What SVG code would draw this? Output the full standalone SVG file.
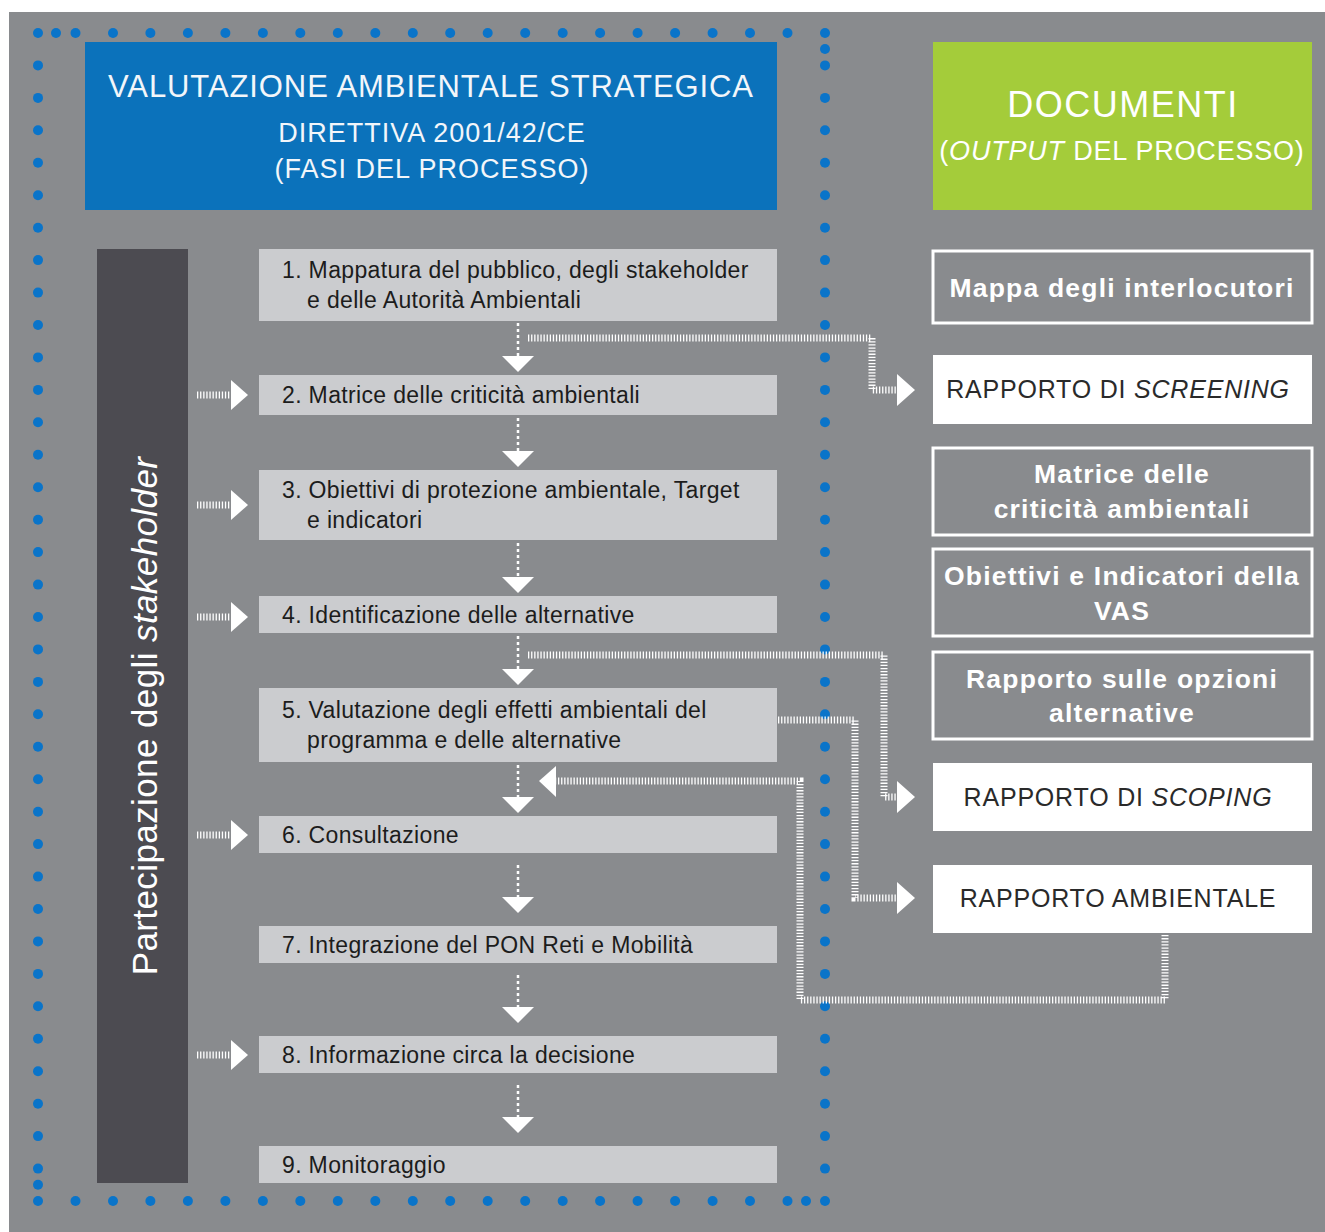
<svg xmlns="http://www.w3.org/2000/svg" width="1325" height="1232" viewBox="0 0 1325 1232">
<defs>
<style>
text{font-family:"Liberation Sans",Arial,sans-serif}
.step{fill:#cbcccf}
.st{font-size:23px;letter-spacing:0.35px;fill:#1c1c1c}
.dot{fill:#0a74c9}
.hatch{fill:none;stroke:#ffffff;stroke-width:7;stroke-dasharray:1.3 1.8}
.vdash{fill:none;stroke:#ffffff;stroke-width:2.5;stroke-dasharray:3 3}
.arr{fill:#ffffff}
.docO{fill:none;stroke:#ffffff;stroke-width:3}
.docW{fill:#ffffff}
.dto{font-size:26.5px;letter-spacing:1.2px;font-weight:700;fill:#ffffff;text-anchor:middle}
.dtw{font-size:25px;letter-spacing:0.8px;fill:#2a2a2a;text-anchor:middle}
</style>
</defs>
<rect x="0" y="0" width="1325" height="1232" fill="#ffffff"/>
<rect x="9" y="12" width="1316" height="1220" fill="#898b8e"/>

<g id="border-dots">
<circle class="dot" cx="38" cy="33" r="5"/><circle class="dot" cx="56" cy="33" r="5"/><circle class="dot" cx="75.5" cy="33" r="5"/><circle class="dot" cx="113" cy="33" r="5"/><circle class="dot" cx="150.4" cy="33" r="5"/><circle class="dot" cx="187.9" cy="33" r="5"/><circle class="dot" cx="225.4" cy="33" r="5"/><circle class="dot" cx="262.9" cy="33" r="5"/><circle class="dot" cx="300.3" cy="33" r="5"/><circle class="dot" cx="337.8" cy="33" r="5"/><circle class="dot" cx="375.3" cy="33" r="5"/><circle class="dot" cx="412.8" cy="33" r="5"/><circle class="dot" cx="450.2" cy="33" r="5"/><circle class="dot" cx="487.7" cy="33" r="5"/><circle class="dot" cx="525.2" cy="33" r="5"/><circle class="dot" cx="562.7" cy="33" r="5"/><circle class="dot" cx="600.1" cy="33" r="5"/><circle class="dot" cx="637.6" cy="33" r="5"/><circle class="dot" cx="675.1" cy="33" r="5"/><circle class="dot" cx="712.6" cy="33" r="5"/><circle class="dot" cx="750" cy="33" r="5"/><circle class="dot" cx="787.5" cy="33" r="5"/><circle class="dot" cx="825" cy="33" r="5"/>
<circle class="dot" cx="38" cy="1201" r="5"/><circle class="dot" cx="75.5" cy="1201" r="5"/><circle class="dot" cx="113" cy="1201" r="5"/><circle class="dot" cx="150.4" cy="1201" r="5"/><circle class="dot" cx="187.9" cy="1201" r="5"/><circle class="dot" cx="225.4" cy="1201" r="5"/><circle class="dot" cx="262.9" cy="1201" r="5"/><circle class="dot" cx="300.3" cy="1201" r="5"/><circle class="dot" cx="337.8" cy="1201" r="5"/><circle class="dot" cx="375.3" cy="1201" r="5"/><circle class="dot" cx="412.8" cy="1201" r="5"/><circle class="dot" cx="450.2" cy="1201" r="5"/><circle class="dot" cx="487.7" cy="1201" r="5"/><circle class="dot" cx="525.2" cy="1201" r="5"/><circle class="dot" cx="562.7" cy="1201" r="5"/><circle class="dot" cx="600.1" cy="1201" r="5"/><circle class="dot" cx="637.6" cy="1201" r="5"/><circle class="dot" cx="675.1" cy="1201" r="5"/><circle class="dot" cx="712.6" cy="1201" r="5"/><circle class="dot" cx="750" cy="1201" r="5"/><circle class="dot" cx="787.5" cy="1201" r="5"/><circle class="dot" cx="806" cy="1201" r="5"/><circle class="dot" cx="825" cy="1201" r="5"/>
<circle class="dot" cx="38" cy="65.4" r="5"/><circle class="dot" cx="38" cy="97.9" r="5"/><circle class="dot" cx="38" cy="130.3" r="5"/><circle class="dot" cx="38" cy="162.8" r="5"/><circle class="dot" cx="38" cy="195.2" r="5"/><circle class="dot" cx="38" cy="227.7" r="5"/><circle class="dot" cx="38" cy="260.1" r="5"/><circle class="dot" cx="38" cy="292.6" r="5"/><circle class="dot" cx="38" cy="325" r="5"/><circle class="dot" cx="38" cy="357.4" r="5"/><circle class="dot" cx="38" cy="389.9" r="5"/><circle class="dot" cx="38" cy="422.3" r="5"/><circle class="dot" cx="38" cy="454.8" r="5"/><circle class="dot" cx="38" cy="487.2" r="5"/><circle class="dot" cx="38" cy="519.7" r="5"/><circle class="dot" cx="38" cy="552.1" r="5"/><circle class="dot" cx="38" cy="584.6" r="5"/><circle class="dot" cx="38" cy="617" r="5"/><circle class="dot" cx="38" cy="649.4" r="5"/><circle class="dot" cx="38" cy="681.9" r="5"/><circle class="dot" cx="38" cy="714.3" r="5"/><circle class="dot" cx="38" cy="746.8" r="5"/><circle class="dot" cx="38" cy="779.2" r="5"/><circle class="dot" cx="38" cy="811.7" r="5"/><circle class="dot" cx="38" cy="844.1" r="5"/><circle class="dot" cx="38" cy="876.6" r="5"/><circle class="dot" cx="38" cy="909" r="5"/><circle class="dot" cx="38" cy="941.4" r="5"/><circle class="dot" cx="38" cy="973.9" r="5"/><circle class="dot" cx="38" cy="1006.3" r="5"/><circle class="dot" cx="38" cy="1038.8" r="5"/><circle class="dot" cx="38" cy="1071.2" r="5"/><circle class="dot" cx="38" cy="1103.7" r="5"/><circle class="dot" cx="38" cy="1136.1" r="5"/><circle class="dot" cx="38" cy="1168.6" r="5"/><circle class="dot" cx="38" cy="1184.8" r="5"/>
<circle class="dot" cx="825" cy="49" r="5"/><circle class="dot" cx="825" cy="65.4" r="5"/><circle class="dot" cx="825" cy="97.9" r="5"/><circle class="dot" cx="825" cy="130.3" r="5"/><circle class="dot" cx="825" cy="162.8" r="5"/><circle class="dot" cx="825" cy="195.2" r="5"/><circle class="dot" cx="825" cy="227.7" r="5"/><circle class="dot" cx="825" cy="260.1" r="5"/><circle class="dot" cx="825" cy="292.6" r="5"/><circle class="dot" cx="825" cy="325" r="5"/><circle class="dot" cx="825" cy="357.4" r="5"/><circle class="dot" cx="825" cy="389.9" r="5"/><circle class="dot" cx="825" cy="422.3" r="5"/><circle class="dot" cx="825" cy="454.8" r="5"/><circle class="dot" cx="825" cy="487.2" r="5"/><circle class="dot" cx="825" cy="519.7" r="5"/><circle class="dot" cx="825" cy="552.1" r="5"/><circle class="dot" cx="825" cy="584.6" r="5"/><circle class="dot" cx="825" cy="617" r="5"/><circle class="dot" cx="825" cy="649.4" r="5"/><circle class="dot" cx="825" cy="681.9" r="5"/><circle class="dot" cx="825" cy="714.3" r="5"/><circle class="dot" cx="825" cy="746.8" r="5"/><circle class="dot" cx="825" cy="779.2" r="5"/><circle class="dot" cx="825" cy="811.7" r="5"/><circle class="dot" cx="825" cy="844.1" r="5"/><circle class="dot" cx="825" cy="876.6" r="5"/><circle class="dot" cx="825" cy="909" r="5"/><circle class="dot" cx="825" cy="941.4" r="5"/><circle class="dot" cx="825" cy="973.9" r="5"/><circle class="dot" cx="825" cy="1006.3" r="5"/><circle class="dot" cx="825" cy="1038.8" r="5"/><circle class="dot" cx="825" cy="1071.2" r="5"/><circle class="dot" cx="825" cy="1103.7" r="5"/><circle class="dot" cx="825" cy="1136.1" r="5"/><circle class="dot" cx="825" cy="1168.6" r="5"/>
</g>

<g id="header-vas">
<rect x="85" y="42" width="692" height="168" fill="#0b72bb"/>
<text x="431" y="97" font-size="31" letter-spacing="0.9" fill="#f2f6fa" text-anchor="middle">VALUTAZIONE AMBIENTALE STRATEGICA</text>
<text x="432" y="142" font-size="27" letter-spacing="1" fill="#f2f6fa" text-anchor="middle">DIRETTIVA 2001/42/CE</text>
<text x="432" y="178" font-size="27" letter-spacing="1" fill="#f2f6fa" text-anchor="middle">(FASI DEL PROCESSO)</text>
</g>

<g id="header-documenti">
<rect x="933" y="42" width="379" height="168" fill="#a4cc3a"/>
<text x="1123" y="117" font-size="36" letter-spacing="1.5" fill="#ffffff" text-anchor="middle">DOCUMENTI</text>
<text x="1122" y="160" font-size="27" letter-spacing="0.8" fill="#ffffff" text-anchor="middle">(<tspan font-style="italic">OUTPUT</tspan> DEL PROCESSO)</text>
</g>

<g id="stakeholder-bar">
<rect x="97" y="249" width="91" height="934" fill="#4c4b51"/>
<text transform="translate(157,716) rotate(-90)" font-size="35" letter-spacing="0.4" fill="#ffffff" text-anchor="middle">Partecipazione degli <tspan font-style="italic">stakeholder</tspan></text>
</g>

<g id="step1"><rect class="step" x="259" y="249" width="518" height="72"/><text class="st" x="282" y="278">1. Mappatura del pubblico, degli stakeholder</text><text class="st" x="307" y="308">e delle Autorità Ambientali</text></g>
<g id="step2"><rect class="step" x="259" y="375" width="518" height="40"/><text class="st" x="282" y="403">2. Matrice delle criticità ambientali</text></g>
<g id="step3"><rect class="step" x="259" y="470" width="518" height="70"/><text class="st" x="282" y="498">3. Obiettivi di protezione ambientale, Target</text><text class="st" x="307" y="528">e indicatori</text></g>
<g id="step4"><rect class="step" x="259" y="596" width="518" height="37"/><text class="st" x="282" y="623">4. Identificazione delle alternative</text></g>
<g id="step5"><rect class="step" x="259" y="688" width="518" height="74"/><text class="st" x="282" y="718">5. Valutazione degli effetti ambientali del</text><text class="st" x="307" y="748">programma e delle alternative</text></g>
<g id="step6"><rect class="step" x="259" y="816" width="518" height="37"/><text class="st" x="282" y="843">6. Consultazione</text></g>
<g id="step7"><rect class="step" x="259" y="926" width="518" height="37"/><text class="st" x="282" y="953">7. Integrazione del PON Reti e Mobilità</text></g>
<g id="step8"><rect class="step" x="259" y="1036" width="518" height="37"/><text class="st" x="282" y="1063">8. Informazione circa la decisione</text></g>
<g id="step9"><rect class="step" x="259" y="1146" width="518" height="37"/><text class="st" x="282" y="1173">9. Monitoraggio</text></g>

<g id="doc-mappa"><rect class="docO" x="933" y="251" width="379" height="72"/><text class="dto" x="1122" y="297">Mappa degli interlocutori</text></g>
<g id="doc-screening"><rect class="docW" x="933" y="355" width="379" height="69"/><text class="dtw" x="1118" y="398">RAPPORTO DI <tspan font-style="italic">SCREENING</tspan></text></g>
<g id="doc-matrice"><rect class="docO" x="933" y="448" width="379" height="87"/><text class="dto" x="1122" y="483">Matrice delle</text><text class="dto" x="1122" y="518">criticità ambientali</text></g>
<g id="doc-obiettivi"><rect class="docO" x="933" y="549" width="379" height="87"/><text class="dto" x="1122" y="585">Obiettivi e Indicatori della</text><text class="dto" x="1122" y="620">VAS</text></g>
<g id="doc-opzioni"><rect class="docO" x="933" y="652" width="379" height="87"/><text class="dto" x="1122" y="688">Rapporto sulle opzioni</text><text class="dto" x="1122" y="722">alternative</text></g>
<g id="doc-scoping"><rect class="docW" x="933" y="763" width="379" height="68"/><text class="dtw" x="1118" y="806">RAPPORTO DI <tspan font-style="italic">SCOPING</tspan></text></g>
<g id="doc-ambientale"><rect class="docW" x="933" y="865" width="379" height="68"/><text class="dtw" x="1118" y="907">RAPPORTO AMBIENTALE</text></g>

<g id="connectors">
<line class="vdash" x1="518" y1="323" x2="518" y2="357"/><polygon class="arr" points="502,356 534,356 518,372"/>
<line class="vdash" x1="518" y1="418" x2="518" y2="452"/><polygon class="arr" points="502,451 534,451 518,467"/>
<line class="vdash" x1="518" y1="543" x2="518" y2="578"/><polygon class="arr" points="502,577 534,577 518,593"/>
<line class="vdash" x1="518" y1="636" x2="518" y2="670"/><polygon class="arr" points="502,669 534,669 518,685"/>
<line class="vdash" x1="518" y1="765" x2="518" y2="798"/><polygon class="arr" points="502,797 534,797 518,813"/>
<line class="vdash" x1="518" y1="865" x2="518" y2="898"/><polygon class="arr" points="502,897 534,897 518,913"/>
<line class="vdash" x1="518" y1="975" x2="518" y2="1008"/><polygon class="arr" points="502,1007 534,1007 518,1023"/>
<line class="vdash" x1="518" y1="1085" x2="518" y2="1118"/><polygon class="arr" points="502,1117 534,1117 518,1133"/>
<line class="hatch" x1="197" y1="395" x2="232" y2="395"/><polygon class="arr" points="231,380 231,410 248,395"/>
<line class="hatch" x1="197" y1="505" x2="232" y2="505"/><polygon class="arr" points="231,490 231,520 248,505"/>
<line class="hatch" x1="197" y1="617" x2="232" y2="617"/><polygon class="arr" points="231,602 231,632 248,617"/>
<line class="hatch" x1="197" y1="835" x2="232" y2="835"/><polygon class="arr" points="231,820 231,850 248,835"/>
<line class="hatch" x1="197" y1="1055" x2="232" y2="1055"/><polygon class="arr" points="231,1040 231,1070 248,1055"/>
<polyline class="hatch" points="528,338 872,338 872,390 898,390"/><polygon class="arr" points="897,374 897,406 915,390"/>
<polyline class="hatch" points="528,655 884,655 884,797 898,797"/><polygon class="arr" points="897,781 897,813 915,797"/>
<polyline class="hatch" points="778,720 855,720 855,898 898,898"/><polygon class="arr" points="897,882 897,914 915,898"/>
<polyline class="hatch" points="1165,935 1165,1000 800,1000 800,781 555,781"/><polygon class="arr" points="556,766 556,797 539,781"/>
</g>
</svg>
